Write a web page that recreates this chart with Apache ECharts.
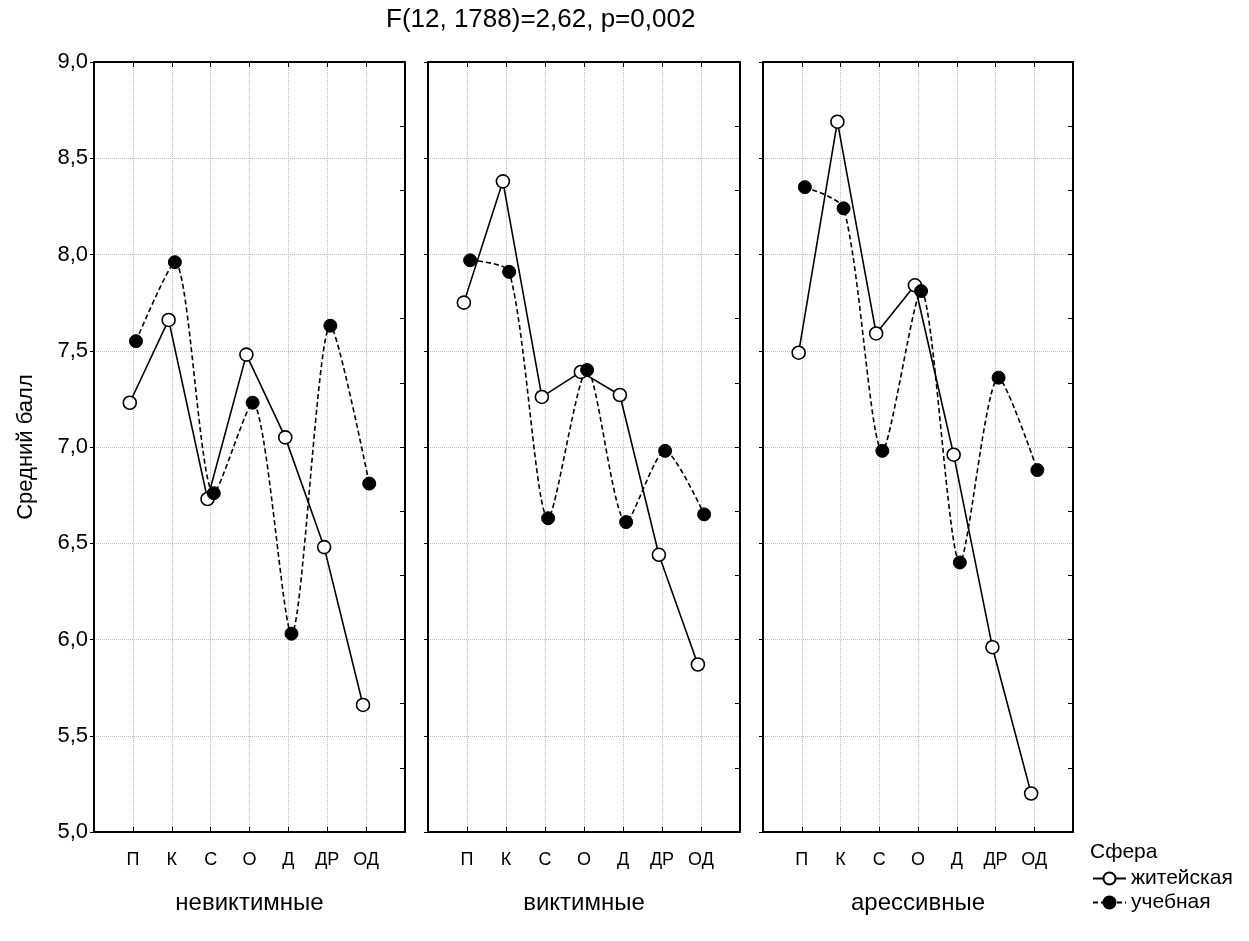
<!DOCTYPE html>
<html>
<head>
<meta charset="utf-8">
<script src="https://cdn.jsdelivr.net/npm/echarts@6/dist/echarts.min.js"></script>
<style>html,body{margin:0;padding:0;background:#fff;}#chart{width:1249px;height:941px;}</style>
</head>
<body>
<div id="chart"></div>
<script>
// ---- data ----
const categories = ['П', 'К', 'С', 'О', 'Д', 'ДР', 'ОД'];
const groups = ['невиктимные', 'виктимные', 'арессивные'];
const seriesNames = ['житейская', 'учебная'];
const zhitNevikt = [7.23, 7.66, 6.73, 7.48, 7.05, 6.48, 5.66];
const uchebNevikt = [7.55, 7.96, 6.76, 7.23, 6.03, 7.63, 6.81];
const zhitVikt = [7.75, 8.38, 7.26, 7.39, 7.27, 6.44, 5.87];
const uchebVikt = [7.97, 7.91, 6.63, 7.40, 6.61, 6.98, 6.65];
const zhitAgr = [7.49, 8.69, 7.59, 7.84, 6.96, 5.96, 5.20];
const uchebAgr = [8.35, 8.24, 6.98, 7.81, 6.40, 7.36, 6.88];
const titleText = 'F(12, 1788)=2,62, p=0,002';
const yAxisTitle = 'Средний балл';
const legendTitle = 'Сфера';

const panelData = [[zhitNevikt, uchebNevikt], [zhitVikt, uchebVikt], [zhitAgr, uchebAgr]];

// ---- layout ----
const panels = [{left: 94, width: 311}, {left: 428, width: 312}, {left: 763, width: 310}];
const FONT = 'Liberation Sans, Arial, sans-serif';
const offset = 0.08;

const grid = [], xAxis = [], yAxis = [], series = [];
panels.forEach((p, i) => {
  grid.push({left: p.left, top: 62, width: p.width, height: 770});
  const axisLine = {show: true, onZero: false, lineStyle: {color: '#000', width: 2}};
  const tickStyle = {color: '#000', width: 1};
  xAxis.push({
    type: 'value', gridIndex: i, min: 0, max: 8, interval: 1, position: 'bottom',
    axisLine,
    axisTick: {show: true, inside: true, length: 5, lineStyle: tickStyle},
    axisLabel: {formatter: v => categories[v - 1] || '', fontSize: 18, color: '#000', margin: 19, fontFamily: FONT},
    splitLine: {show: true, lineStyle: {type: 'dotted', color: '#bdbdbd', width: 1}},
    name: groups[i], nameLocation: 'middle', nameGap: 59,
    nameTextStyle: {fontSize: 24, color: '#000', fontFamily: FONT}
  });
  xAxis.push({
    type: 'value', gridIndex: i, min: 0, max: 8, interval: 1, position: 'top',
    axisLine,
    axisTick: {show: true, inside: true, length: 5, lineStyle: tickStyle},
    axisLabel: {show: false}, splitLine: {show: false}
  });
  yAxis.push({
    type: 'value', gridIndex: i, min: 5, max: 9, interval: 0.5, position: 'left',
    axisLine,
    axisTick: {show: true, inside: false, length: 4, lineStyle: tickStyle},
    axisLabel: {show: i === 0, formatter: v => v.toFixed(1).replace('.', ','), fontSize: 22, color: '#000', margin: 6, fontFamily: FONT},
    splitLine: {show: true, lineStyle: {type: 'dotted', color: '#bdbdbd', width: 1}},
    name: i === 0 ? yAxisTitle : '', nameLocation: 'middle', nameGap: 57,
    nameTextStyle: {fontSize: 22, color: '#000', fontFamily: FONT}
  });
  yAxis.push({
    type: 'value', gridIndex: i, min: 5, max: 9, interval: 1 / 3, position: 'right',
    axisLine,
    axisTick: {show: true, inside: true, length: 5, lineStyle: tickStyle},
    axisLabel: {show: false}, splitLine: {show: false}
  });
  const [zh, uc] = panelData[i];
  series.push({
    name: seriesNames[0], type: 'line', xAxisIndex: 2 * i, yAxisIndex: 2 * i,
    data: zh.map((v, k) => [k + 1 - offset, v]),
    symbol: 'circle', symbolSize: 13,
    itemStyle: {color: '#fff', borderColor: '#000', borderWidth: 1.6},
    lineStyle: {color: '#000', width: 1.6, type: 'solid'},
    z: 3, animation: false
  });
  series.push({
    name: seriesNames[1], type: 'line', xAxisIndex: 2 * i, yAxisIndex: 2 * i,
    data: uc.map((v, k) => [k + 1 + offset, v]),
    symbol: 'circle', symbolSize: 13, smooth: 0.25,
    itemStyle: {color: '#000', borderColor: '#000', borderWidth: 1},
    lineStyle: {color: '#000', width: 1.6, type: [5, 3]},
    z: 4, animation: false
  });
});

const chart = echarts.init(document.getElementById('chart'), null, {renderer: 'canvas'});
chart.setOption({
  backgroundColor: '#fff',
  animation: false,
  textStyle: {fontFamily: FONT},
  grid, xAxis, yAxis, series,
  legend: {
    data: seriesNames, orient: 'vertical', left: 1092, top: 868,
    itemWidth: 33, itemHeight: 15, itemGap: 3, padding: 0,
    textStyle: {fontSize: 21, color: '#000', fontFamily: FONT}
  },
  graphic: [
    {type: 'text', left: 386, top: 7, style: {text: titleText, fontSize: 26, fill: '#000', fontFamily: FONT}},
    {type: 'text', left: 1090, top: 842, style: {text: legendTitle, fontSize: 21, fill: '#000', fontFamily: FONT}}
  ]
});
</script>
</body>
</html>
